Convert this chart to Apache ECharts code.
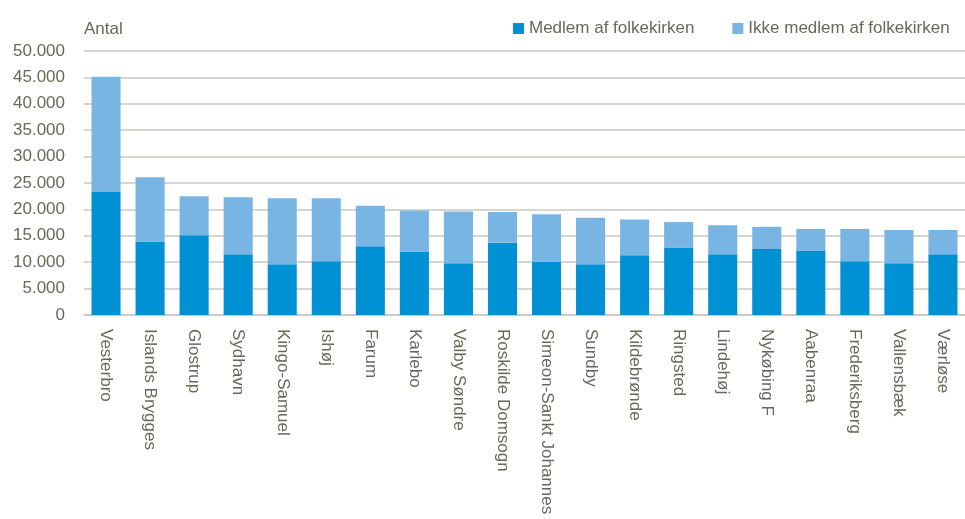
<!DOCTYPE html>
<html>
<head>
<meta charset="utf-8">
<script src="https://cdn.jsdelivr.net/npm/echarts@6/dist/echarts.min.js"></script>
<style>
  html, body { margin: 0; padding: 0; background: #ffffff; }
  #chart { width: 965px; height: 519px; }
</style>
</head>
<body>
<div id="chart"></div>
<script>
const categories = ['Vesterbro', 'Islands Brygges', 'Glostrup', 'Sydhavn', 'Kingo-Samuel', 'Ishøj', 'Farum', 'Karlebo', 'Valby Søndre', 'Roskilde Domsogn', 'Simeon-Sankt Johannes', 'Sundby', 'Kildebrønde', 'Ringsted', 'Lindehøj', 'Nykøbing F', 'Aabenraa', 'Frederiksberg', 'Vallensbæk', 'Værløse'];
const members = [23300, 13900, 15100, 11500, 9600, 10200, 13000, 12000, 9800, 13700, 10100, 9600, 11300, 12800, 11500, 12500, 12200, 10200, 9800, 11500];
const nonMembers = [21800, 12200, 7400, 10800, 12500, 11900, 7700, 7800, 9800, 5800, 9000, 8800, 6800, 4800, 5500, 4200, 4100, 6100, 6300, 4600];
const seriesNames = ['Medlem af folkekirken', 'Ikke medlem af folkekirken'];
const yTicks = [0, 5000, 10000, 15000, 20000, 25000, 30000, 35000, 40000, 45000, 50000];
const yAxisName = 'Antal';

const textColor = '#68685a';
const fontFamily = "'Liberation Sans', Arial, sans-serif";

function fmt(v) {
  return String(v).replace(/\B(?=(\d{3})+(?!\d))/g, '.');
}

const chart = echarts.init(document.getElementById('chart'), null, { renderer: 'canvas' });
chart.setOption({
  animation: false,
  backgroundColor: '#ffffff',
  textStyle: { fontFamily: fontFamily },
  legend: {
    left: 508,
    top: 15,
    itemWidth: 11,
    itemHeight: 11,
    itemGap: 38,
    icon: 'rect',
    textStyle: { color: textColor, fontSize: 17, fontFamily: fontFamily },
    data: seriesNames
  },
  grid: { left: 84, top: 51, width: 892, height: 264, containLabel: false },
  xAxis: {
    type: 'category',
    data: categories,
    axisTick: { show: false },
    axisLine: { show: true, lineStyle: { color: '#c8c8c0', width: 1.5 } },
    axisLabel: {
      rotate: -90,
      interval: 0,
      margin: 14,
      color: textColor,
      fontSize: 17,
      fontFamily: fontFamily
    }
  },
  yAxis: {
    type: 'value',
    min: yTicks[0],
    max: yTicks[yTicks.length - 1],
    interval: yTicks[1] - yTicks[0],
    name: yAxisName,
    nameLocation: 'end',
    nameGap: 13,
    nameTextStyle: { color: textColor, fontSize: 17, align: 'left', fontFamily: fontFamily },
    axisLine: { show: false },
    axisTick: { show: false },
    axisLabel: {
      color: textColor,
      fontSize: 17,
      margin: 19,
      fontFamily: fontFamily,
      formatter: fmt
    },
    splitLine: { lineStyle: { color: '#c8c8c0', width: 1.5 } }
  },
  series: [
    {
      name: seriesNames[0],
      type: 'bar',
      stack: 'total',
      data: members,
      barCategoryGap: '34%',
      itemStyle: { color: '#0090d4' }
    },
    {
      name: seriesNames[1],
      type: 'bar',
      stack: 'total',
      data: nonMembers,
      barCategoryGap: '34%',
      itemStyle: { color: '#78b5e3' }
    }
  ]
});
</script>
</body>
</html>
